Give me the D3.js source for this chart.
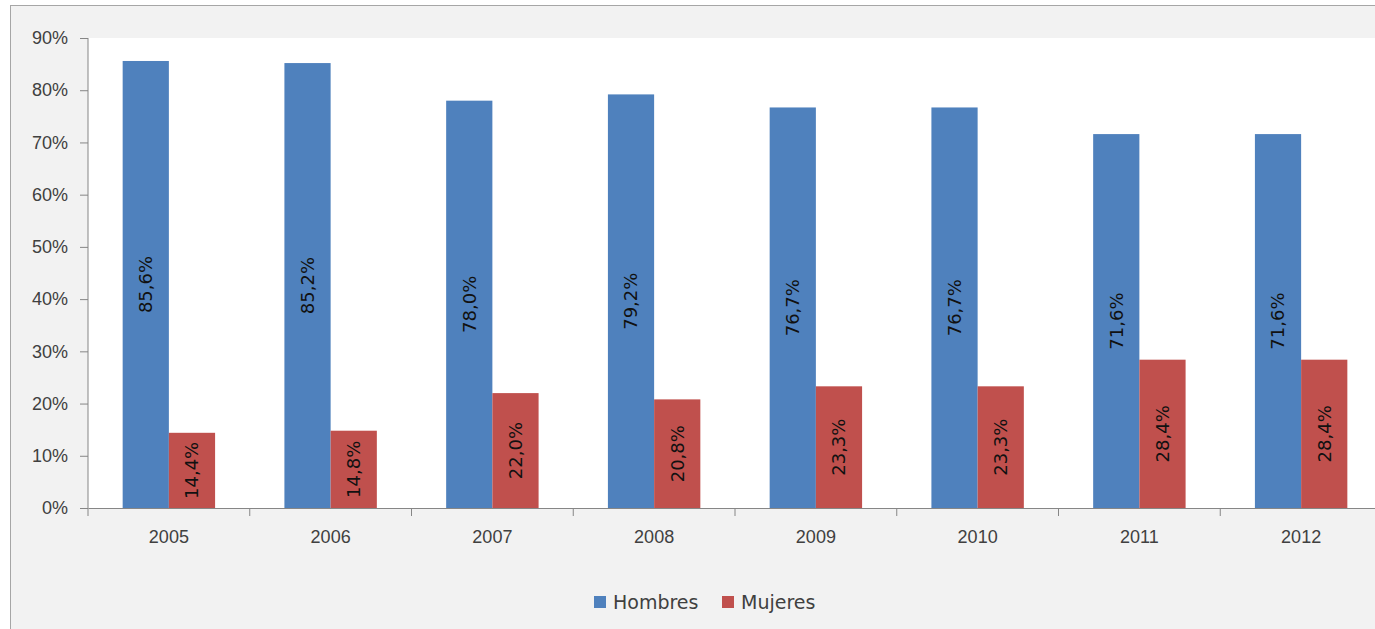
<!DOCTYPE html>
<html>
<head>
<meta charset="utf-8">
<script src="https://cdn.jsdelivr.net/npm/d3@7"></script>
<style>
  body { margin: 0; background: #fff; }
  svg { display: block; font-family: "DejaVu Sans", sans-serif; }
</style>
</head>
<body>
<div id="chart"></div>
<script>
const years = ["2005", "2006", "2007", "2008", "2009", "2010", "2011", "2012"];
const hombres = [85.6, 85.2, 78.0, 79.2, 76.7, 76.7, 71.6, 71.6];
const mujeres = [14.4, 14.8, 22.0, 20.8, 23.3, 23.3, 28.4, 28.4];
const seriesNames = ["Hombres", "Mujeres"];
const seriesColors = ["#4f81bd", "#c0504d"];
const yTicks = [0, 10, 20, 30, 40, 50, 60, 70, 80, 90];

const W = 1375, H = 629;
const margin = {top: 38, right: -7, bottom: 121, left: 88};
const width = W - margin.left - margin.right,
      height = H - margin.top - margin.bottom;

const svg = d3.select("#chart").append("svg")
  .attr("width", W).attr("height", H);

// Chart area background and border
svg.append("rect")
  .attr("x", 10.5).attr("y", 5.5)
  .attr("width", W).attr("height", H)
  .style("fill", "#f2f2f2")
  .style("stroke", "#a6a6a6");

const g = svg.append("g")
  .attr("transform", "translate(" + margin.left + "," + margin.top + ")");

// Plot area
g.append("rect")
  .attr("width", width).attr("height", height)
  .style("fill", "#ffffff");

const x0 = d3.scaleBand().domain(years).range([0, width]).paddingInner(0).paddingOuter(0);
const x1 = d3.scaleBand().domain(seriesNames).range([0, x0.bandwidth()]).paddingInner(0).paddingOuter(0.75);
const y = d3.scaleLinear().domain([0, 90]).range([height, 0]);

// Y axis
const yAxis = g.append("g")
  .call(d3.axisLeft(y).tickValues(yTicks).tickSize(8).tickPadding(12).tickFormat(d => d + "%"));
yAxis.select(".domain").attr("stroke", "#868686").attr("d", "M0," + height + "V0");
yAxis.selectAll(".tick line").attr("stroke", "#868686");
yAxis.selectAll(".tick text").style("font-size", "18px").style("fill", "#404040");

const data = years.map((yr, i) => ({year: yr, values: [hombres[i], mujeres[i]]}));

const groups = g.selectAll(".grp").data(data).enter().append("g")
  .attr("transform", d => "translate(" + x0(d.year) + ",0)");

groups.selectAll("rect").data(d => d.values.map((v, j) => ({v: v, s: seriesNames[j], c: seriesColors[j]})))
  .enter().append("rect")
  .attr("x", d => x1(d.s))
  .attr("width", x1.bandwidth())
  .attr("y", d => y(d.v))
  .attr("height", d => height - y(d.v))
  .style("fill", d => d.c);

groups.selectAll("text.lbl").data(d => d.values.map((v, j) => ({v: v, s: seriesNames[j]})))
  .enter().append("text")
  .attr("class", "lbl")
  .attr("transform", d => "translate(" + (x1(d.s) + x1.bandwidth() / 2) + "," + ((y(d.v) + height) / 2) + ") rotate(-90)")
  .attr("text-anchor", "middle")
  .attr("dy", "0.35em")
  .style("font-size", "18px")
  .style("fill", "#111")
  .text(d => d.v.toFixed(1).replace(".", ",") + "%");

// X axis
const xAxis = g.append("g")
  .attr("transform", "translate(0," + height + ")")
  .call(d3.axisBottom(x0).tickSize(0).tickPadding(22));
xAxis.select(".domain").attr("stroke", "#868686");
xAxis.selectAll(".tick text").style("font-size", "18px").style("fill", "#404040");
xAxis.selectAll(".sep").data(years).enter().append("line")
  .attr("x1", d => x0(d)).attr("x2", d => x0(d))
  .attr("y1", 0).attr("y2", 8)
  .attr("stroke", "#868686");

// Legend
const legend = svg.append("g").attr("transform", "translate(594,602)");
const items = legend.selectAll("g").data(seriesNames).enter().append("g")
  .attr("transform", (d, i) => "translate(" + (i * 128) + ",0)");
items.append("rect")
  .attr("x", 0).attr("y", -6).attr("width", 12).attr("height", 12)
  .style("fill", (d, i) => seriesColors[i]);
items.append("text")
  .attr("x", 19).attr("dy", "0.35em")
  .style("font-size", "19px").style("fill", "#404040")
  .text(d => d);
</script>
</body>
</html>
